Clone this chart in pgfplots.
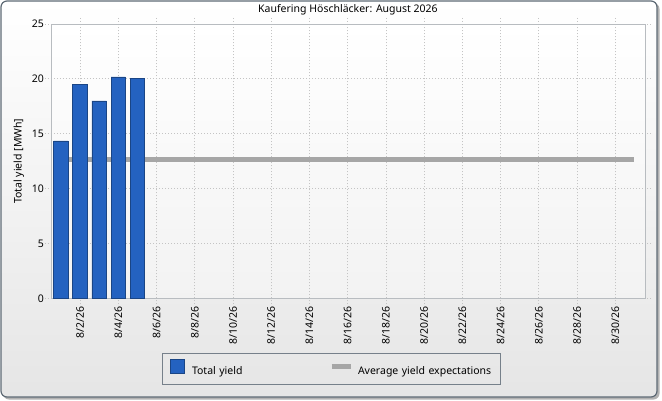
\documentclass[border=0pt]{standalone}
\usepackage{pgfplots}
\pgfplotsset{compat=1.18}
\usepackage{fontspec}
\setmainfont{Noto Sans}
\definecolor{barblue}{HTML}{2462C0}
\definecolor{bardark}{HTML}{1A4585}
\definecolor{avggray}{HTML}{A6A6A6}
\definecolor{framec}{HTML}{5E6A75}
\definecolor{gridc}{HTML}{C4C4C4}
\definecolor{axisc}{HTML}{B8BCC0}
\begin{document}
\begin{tikzpicture}[font=\fontsize{10.5}{12}\selectfont]
\useasboundingbox (0pt,0pt) rectangle (662pt,400pt);
\fill[black!30, rounded corners=6pt] (3pt,0.5pt) rectangle (659.5pt,397pt);
\shade[top color=white, bottom color=black!10, rounded corners=6pt, draw=framec, line width=1.2pt] (1pt,3pt) rectangle (657pt,399pt);
\begin{axis}[
  at={(51pt,101.7pt)}, anchor=south west,
  width=594pt, height=274.3pt, scale only axis,
  xmin=0.48, xmax=31.55, ymin=0, ymax=25,
  axis background/.style={shade, top color=white, bottom color=black!5},
  axis line style={axisc, line width=0.9pt},
  xtick={2,4,...,30},
  xticklabels={8/2/26,8/4/26,8/6/26,8/8/26,8/10/26,8/12/26,8/14/26,8/16/26,8/18/26,8/20/26,8/22/26,8/24/26,8/26/26,8/28/26,8/30/26},
  ytick={0,5,...,25},
  xmajorgrids, ymajorgrids,
  grid style={gridc, line width=0.8pt, dash pattern=on 1pt off 2pt},
  tick align=outside, major tick length=6pt,
  tick style={gridc, line width=0.8pt, dash pattern=on 1pt off 2pt},
  xticklabel style={rotate=90, anchor=east, inner sep=2pt},
  yticklabel style={inner sep=2pt, xshift=1pt},
  /pgf/number format/assume math mode=true,
  ylabel={Total yield [MWh]},
  ylabel style={at={(axis description cs:-0.0539,0.5)}, anchor=center},
  title={Kaufering Höschläcker: August 2026},
  title style={at={(axis description cs:0.5,1)}, anchor=base, yshift=5.7pt},
  legend columns=2,
  reverse legend,
  legend style={at={(axis description cs:0.1874,-0.1983)}, anchor=north west,
    draw=framec!85, fill=none, inner xsep=7pt, inner ysep=6.3pt,
    /tikz/every odd column/.append style={column sep=5.7pt},
    /tikz/every even column/.append style={column sep=6.6pt},
    nodes={inner sep=2pt, text width=133pt, anchor=west}},
]
\addplot[avggray, line width=4.7pt,
  legend image code/.code={\draw[overlay, avggray, line width=4.7pt] (-4.3pt,4.7pt) -- (14.7pt,4.7pt);
    \path (0pt,4.7pt) -- (12pt,4.7pt);}]
  coordinates {(0.64,12.67) (31,12.67)};
\addlegendentry{\mbox{Average yield expectations}}
\addplot[ybar, bar width=14.4pt, fill=barblue, draw=bardark, line width=0.8pt,
  legend image code/.code={\draw[fill=barblue, draw=bardark, line width=0.8pt] (0pt,-2.3pt) rectangle (14pt,11.7pt);}]
  coordinates {(1,14.34) (2,19.53) (3,17.99) (4,20.17) (5,20.05)};
\addlegendentry{Total yield}
\end{axis}
\end{tikzpicture}
\end{document}
